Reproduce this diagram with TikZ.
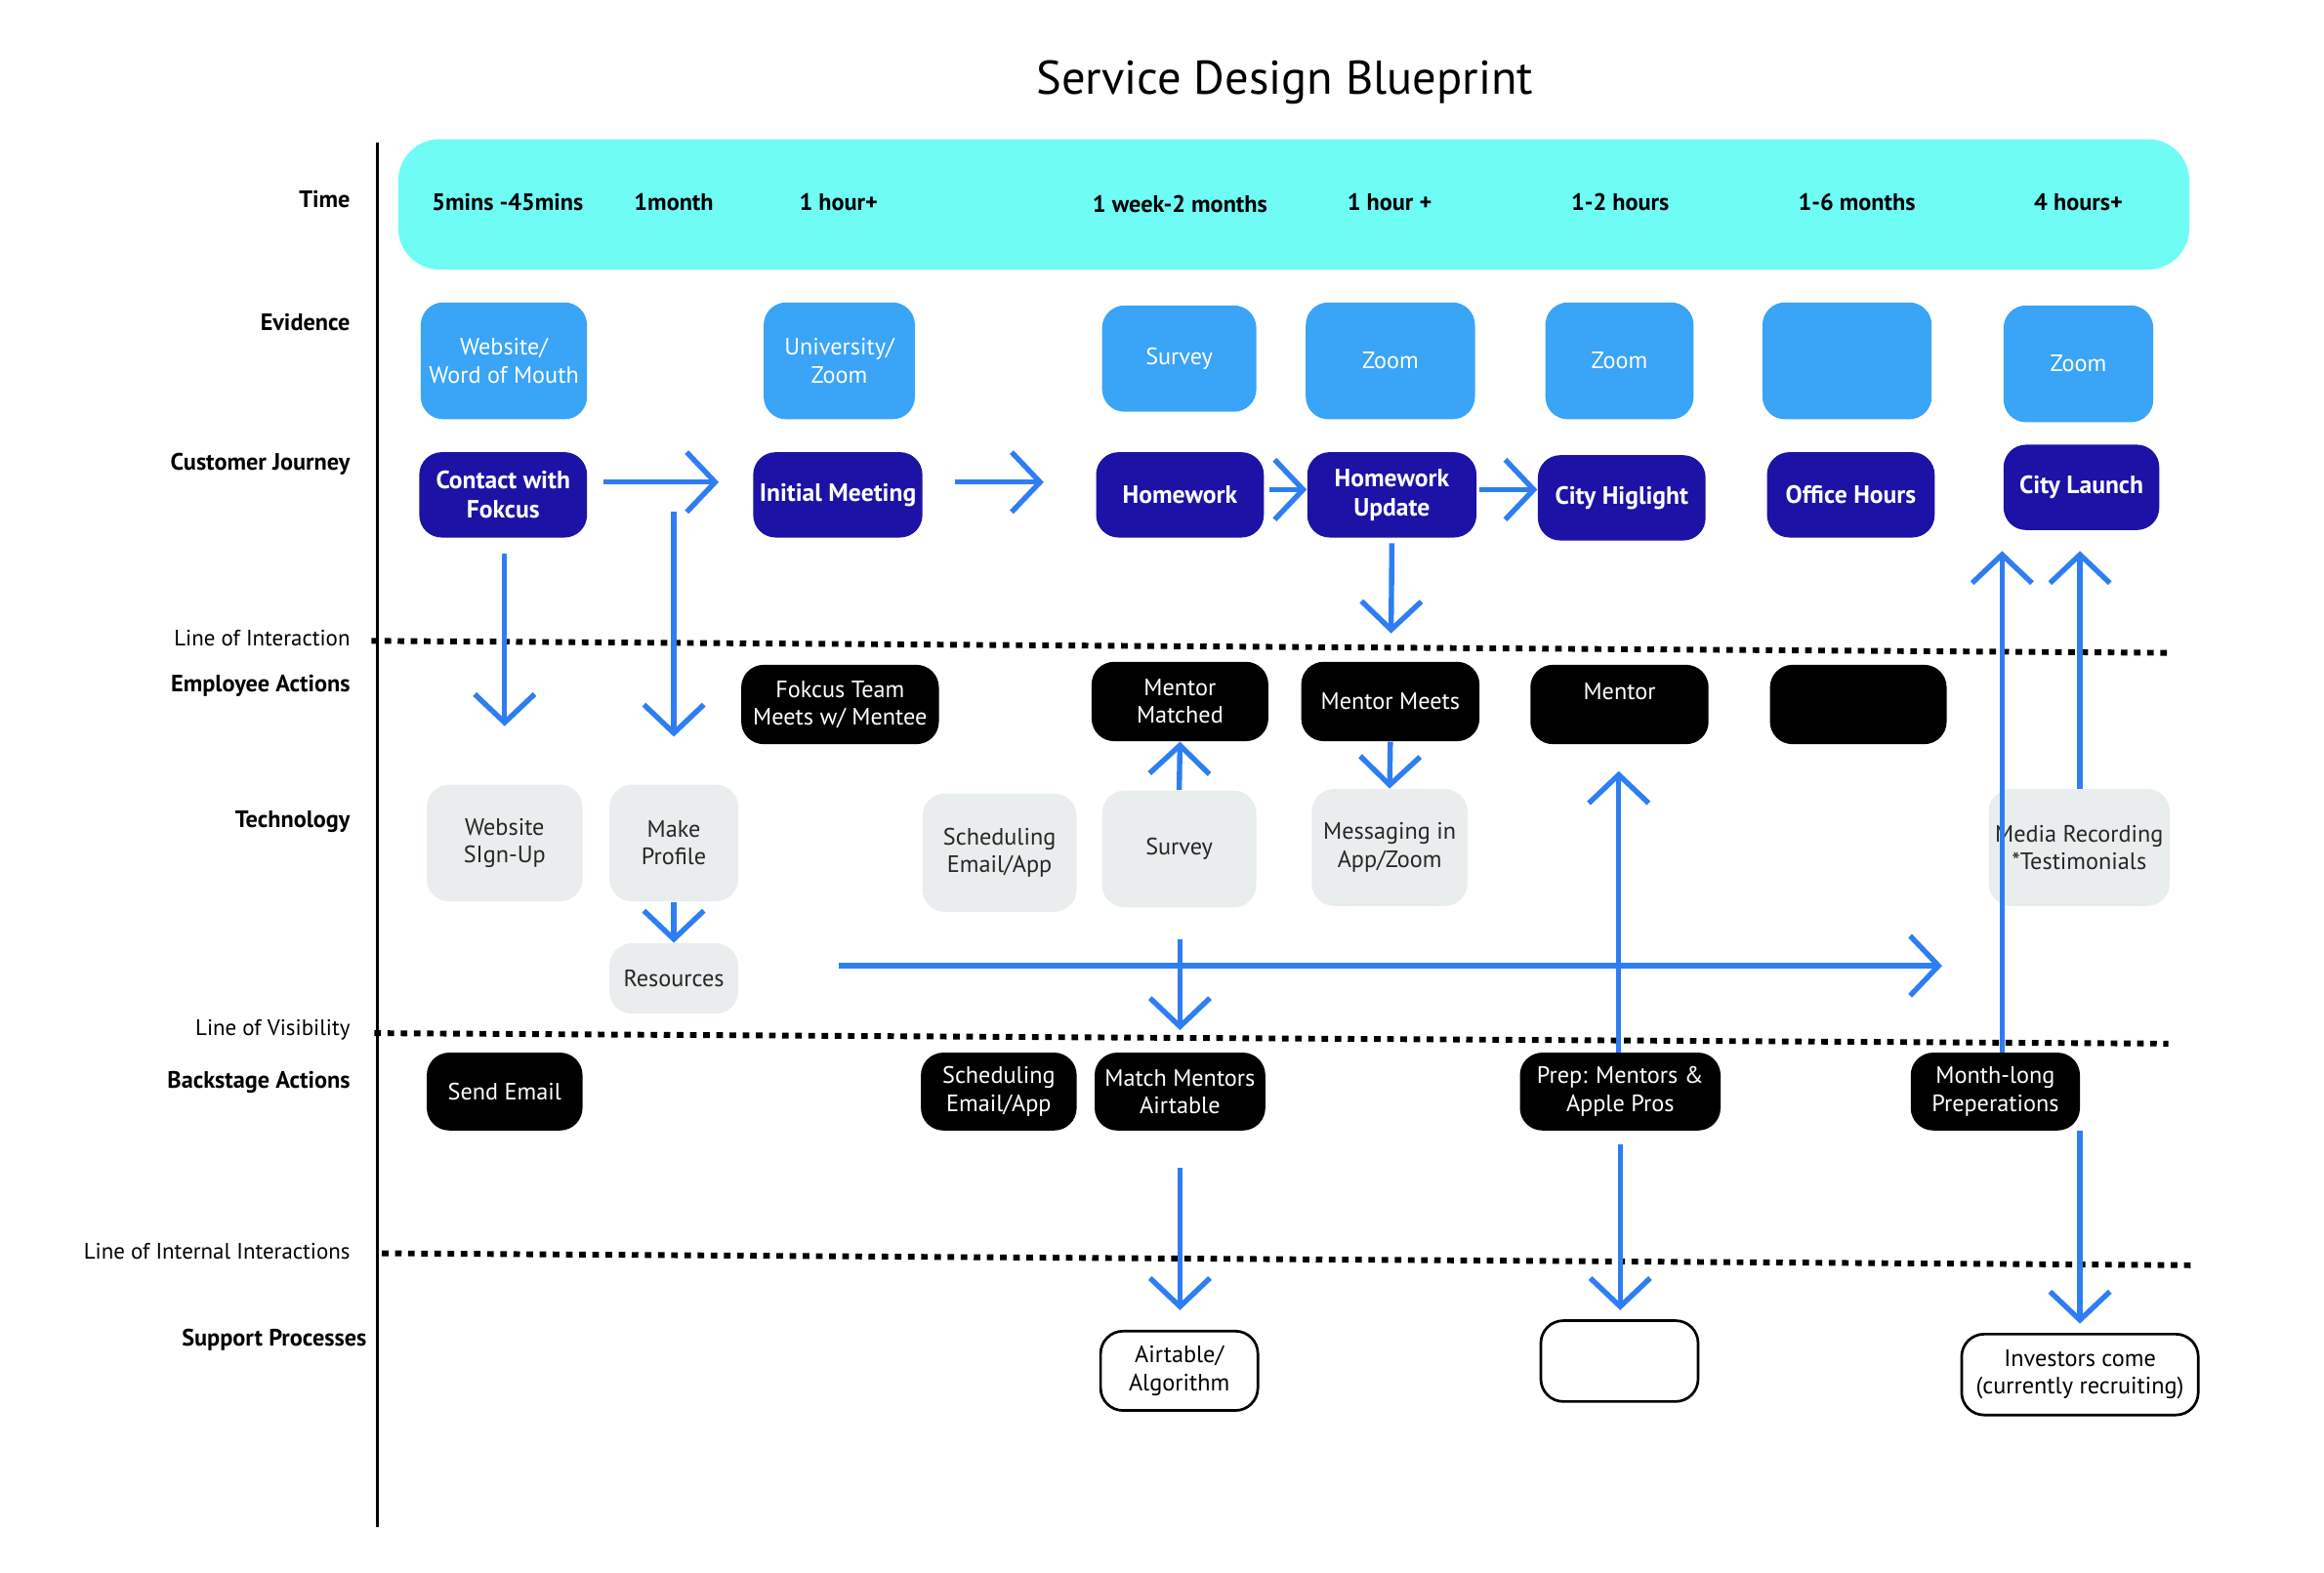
\documentclass[tikz,border=0pt]{standalone}
\usepackage{fontspec}
\setmainfont{PT Sans}
\usetikzlibrary{arrows.meta}
\definecolor{cyanbar}{HTML}{6EFCF5}
\definecolor{evb}{HTML}{3AA4F7}
\definecolor{cjb}{HTML}{1D12A6}
\definecolor{tgray}{HTML}{E9EDED}
\definecolor{arrb}{HTML}{2E7EF2}
\newcommand\bx[7]{\node[#2,minimum width={(#5-#3)*0.02cm},minimum height={(#6-#4)*0.02cm}] (#1) at ({(#3+#5)/2},{(#4+#6)/2}) {#7};}
\tikzset{
  base/.style={rounded corners=0.3cm,align=center,inner sep=1pt,font=\fontsize{9}{10.5}\selectfont},
  ev/.style={base,fill=evb,text=white},
  cj/.style={base,fill=cjb,text=white,font=\fontsize{9.5}{11}\selectfont\bfseries},
  ea/.style={base,fill=black,text=white},
  te/.style={base,fill=tgray,text=black!85},
  sp/.style={base,draw=black,line width=1pt,fill=white},
  lab/.style={anchor=east,font=\fontsize{9}{10}\selectfont\bfseries},
  llab/.style={anchor=east,font=\fontsize{8.5}{10}\selectfont},
  tm/.style={font=\fontsize{9}{10}\selectfont\bfseries},
  dl/.style={line width=2.2pt,dash pattern=on 2.5pt off 2.5pt},
  arr/.style={draw=arrb,line width=2pt,-{Straight Barb[length=0.38cm,width=0.8cm,line width=2pt]}}
}
\begin{document}
\begin{tikzpicture}[x=0.02cm,y=-0.02cm]
\useasboundingbox (0,0) rectangle (1552,1050);
\node[font=\fontsize{18}{20}\selectfont] (title) at (858,55) {Service Design Blueprint};
\fill[cyanbar,rounded corners=0.55cm] (266,93) rectangle (1462,180);
\draw[line width=1.2pt] (252,95) -- (252,1020);
% row labels
\node[lab] (l1) at (240,133) {Time};
\node[lab] (l2) at (240,215) {Evidence};
\node[lab] (l3) at (240,310) {Customer Journey};
\node[lab] (l4) at (240,458) {Employee Actions};
\node[lab] (l5) at (240,549) {Technology};
\node[lab] (l6) at (240,723) {Backstage Actions};
\node[lab] (l7) at (251,895) {Support Processes};
\node[llab] (i1) at (240,426) {Line of Interaction};
\node[llab] (i2) at (240,688) {Line of Visibility};
\node[llab] (i3) at (240,836) {Line of Internal Interactions};
\draw[dl] (248,428) -- (1448,436);
\draw[dl] (250,690) -- (1448,697);
\draw[dl] (255,837) -- (1465,845);
% time
\node[tm] (t1) at (339,135) {5mins -45mins};
\node[tm] (t2) at (450,135) {1month};
\node[tm] (t3) at (560,135) {1 hour+};
\node[tm] (t4) at (788,136) {1 week-2 months};
\node[tm] (t5) at (928,135) {1 hour +};
\node[tm] (t6) at (1082,135) {1-2 hours};
\node[tm] (t7) at (1240,135) {1-6 months};
\node[tm] (t8) at (1388,135) {4 hours+};
% evidence
\bx{e1}{ev}{281}{202}{392}{280}{Website/\\Word of Mouth}
\bx{e2}{ev}{510}{202}{611}{280}{University/\\Zoom}
\bx{e3}{ev}{736}{204}{839}{275}{Survey}
\bx{e4}{ev}{872}{202}{985}{280}{Zoom}
\bx{e5}{ev}{1032}{202}{1131}{280}{\raisebox{-1.1ex}{Zoom}}
\bx{e6}{ev}{1177}{202}{1290}{280}{}
\bx{e7}{ev}{1338}{204}{1438}{282}{\raisebox{-0.6ex}{Zoom}}
% customer journey
\bx{c1}{cj}{280}{302}{392}{359}{Contact with\\Fokcus}
\bx{c2}{cj}{503}{302}{616}{359}{Initial Meeting}
\bx{c3}{cj}{732}{302}{844}{359}{Homework}
\bx{c4}{cj}{873}{302}{986}{359}{Homework\\Update}
\bx{c5}{cj}{1027}{304}{1139}{361}{City Higlight}
\bx{c6}{cj}{1180}{302}{1292}{359}{Office Hours}
\bx{c7}{cj}{1338}{297}{1442}{354}{City Launch}
% employee
\bx{a1}{ea}{495}{444}{627}{497}{Fokcus Team\\Meets w/ Mentee}
\bx{a2}{ea}{729}{442}{847}{495}{Mentor\\Matched}
\bx{a3}{ea}{869}{442}{988}{495}{Mentor Meets}
\bx{a4}{ea}{1022}{444}{1141}{497}{\raisebox{2.2ex}{Mentor}}
\bx{a5}{ea}{1182}{444}{1300}{497}{}
% technology
\bx{g1}{te}{285}{524}{389}{602}{Website\\SIgn-Up}
\bx{g2}{te}{407}{524}{493}{602}{Make\\Profile}
\bx{g3}{te}{407}{630}{493}{677}{Resources}
\bx{g4}{te}{616}{530}{719}{609}{Scheduling\\Email/App}
\bx{g5}{te}{736}{528}{839}{606}{Survey}
\bx{g6}{te}{876}{527}{980}{605}{Messaging in\\App/Zoom}
\bx{g7}{te}{1328}{527}{1449}{605}{Media Recording\\*Testimonials}
% backstage
\bx{b1}{ea}{285}{703}{389}{755}{Send Email}
\bx{b2}{ea}{615}{703}{719}{755}{Scheduling\\Email/App}
\bx{b3}{ea}{731}{703}{845}{755}{Match Mentors\\Airtable}
\bx{b4}{ea}{1015}{703}{1149}{755}{Prep: Mentors \&\\Apple Pros}
\bx{b5}{ea}{1276}{703}{1389}{755}{Month-long\\Preperations}
% support
\bx{s1}{sp}{735}{889}{840}{942}{Airtable/\\Algorithm}
\bx{s2}{sp}{1029}{882}{1134}{936}{}
\bx{s3}{sp}{1310}{891}{1468}{945}{Investors come\\(currently recruiting)}
% arrows
\coordinate (h1) at (560,645);
\coordinate (h2) at (1297,645);
\draw[arr] ([xshift=6pt]c1.east|-0,322) -- (480,322);
\draw[arr] (450,342) -- (450,492);
\draw[arr] ([yshift=-6pt]c1.south-|337,0) -- (337,485);
\draw[arr] (638,322) -- (697,322);
\draw[arr] ([xshift=2pt]c3.east|-0,327) -- (c4.west|-0,327);
\draw[arr] ([xshift=1pt]c4.east|-0,327) -- (c5.west|-0,327);
\draw[arr] ([yshift=-2pt]c4.south) -- (929,423);
\draw[arr] (g5.north) -- (a2.south);
\draw[arr] (a3.south) -- (g6.north);
\draw[arr] (g2.south) -- (g3.north);
\draw[arr] (h1) -- (h2);
\draw[arr] (788,627) -- (788,688);
\draw[arr] (b4.north-|1081,0) -- (1081,515);
\draw[arr] (b5.north-|1337,0) -- (1337,368);
\draw[arr] (g7.north-|1389,0) -- (1389,368);
\draw[arr] (788,780) -- (788,875);
\draw[arr] (1082,764) -- (1082,875);
\draw[arr] (b5.south-|1389,0) -- (1389,884);
\end{tikzpicture}
\end{document}
